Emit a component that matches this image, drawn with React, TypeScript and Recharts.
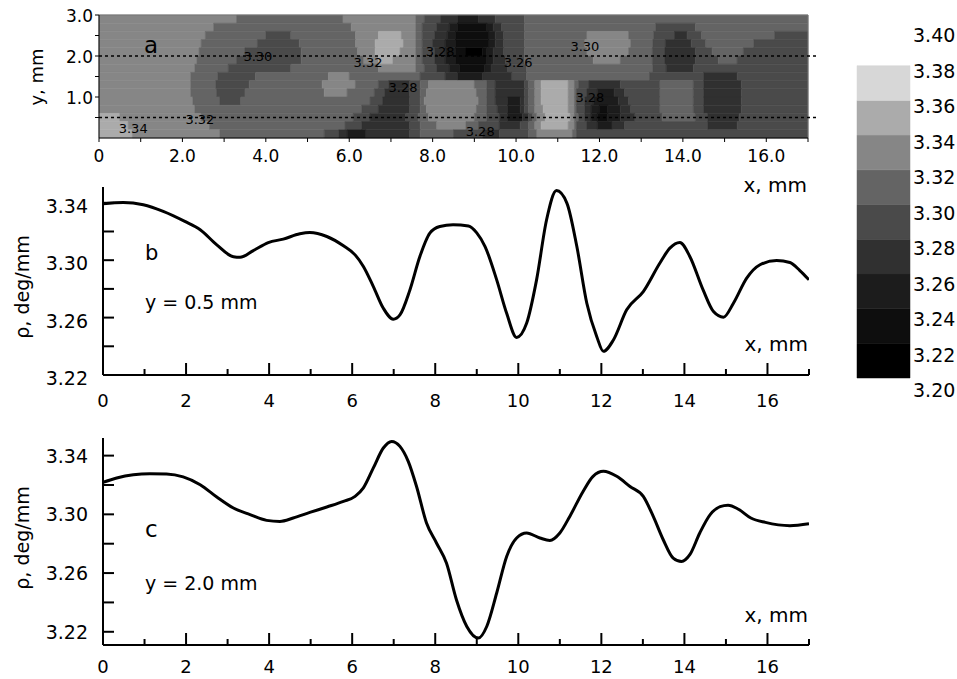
import React from 'react';
import {
  ComposedChart,
  LineChart,
  Line,
  XAxis,
  YAxis,
  ReferenceArea,
  ReferenceLine,
  Scatter,
} from 'recharts';

const FONT = '"DejaVu Sans", sans-serif';

// ---------- colour levels (colour bar and contour map) ----------
const levelBounds = [3.2, 3.22, 3.24, 3.26, 3.28, 3.3, 3.32, 3.34, 3.36, 3.38];
const levelColors = ['#000000', '#0e0e0e', '#1c1c1c', '#303030', '#4a4a4a', '#646464', '#868686', '#ababab', '#d7d7d7'];
const colorbarTicks = [3.2, 3.22, 3.24, 3.26, 3.28, 3.3, 3.32, 3.34, 3.36, 3.38, 3.4];

// ---------- contour map (panel a): rows of [xStart, level] runs ----------
const mapRowBottoms = [2.8, 2.6, 2.4, 2.2, 2.0, 1.8, 1.6, 1.4, 1.2, 1.0, 0.8, 0.6, 0.4, 0.2, 0.0];
const mapRowHeight = 0.2;
const mapRowRuns: number[][] = [
  [0, 6, 3.3, 5, 5.85, 6, 7.6, 5, 7.8, 4, 8.2, 3, 8.6, 2, 9.1, 3, 9.5, 4, 10.2, 5],
  [0, 6, 2.75, 5, 6.05, 6, 7.6, 5, 7.75, 4, 8.1, 3, 8.4, 2, 8.6, 1, 9.3, 2, 9.45, 3, 9.65, 4, 10.2, 5, 13.35, 4, 14.3, 5],
  [0, 6, 2.55, 5, 4.0, 4, 4.6, 5, 6.15, 6, 6.7, 7, 7.25, 6, 7.6, 5, 7.75, 4, 8.05, 3, 8.35, 2, 8.55, 1, 9.35, 2, 9.5, 3, 9.7, 4, 10.2, 5, 11.7, 6, 12.7, 5, 13.3, 4, 13.8, 3, 14.1, 4, 14.45, 5, 16.2, 4],
  [0, 6, 2.45, 5, 3.8, 4, 4.8, 5, 6.15, 6, 6.62, 7, 7.3, 6, 7.6, 5, 7.75, 4, 8.0, 3, 8.3, 2, 8.55, 1, 9.35, 2, 9.5, 3, 9.7, 4, 10.2, 5, 11.65, 6, 12.75, 5, 13.28, 4, 13.58, 3, 14.2, 4, 14.55, 5, 15.7, 4],
  [0, 6, 2.4, 5, 3.5, 4, 4.85, 5, 6.2, 6, 6.62, 7, 7.22, 6, 7.6, 5, 7.75, 4, 8.05, 3, 8.3, 2, 8.55, 1, 8.8, 0, 9.2, 1, 9.3, 2, 9.45, 3, 9.7, 4, 10.2, 5, 11.7, 6, 12.7, 5, 13.27, 4, 13.57, 3, 14.3, 4, 14.7, 5, 15.45, 4],
  [0, 6, 2.35, 5, 3.3, 4, 4.85, 5, 6.35, 6, 6.7, 7, 7.05, 6, 7.6, 5, 7.75, 4, 8.05, 3, 8.3, 2, 8.55, 1, 9.3, 2, 9.45, 3, 9.75, 4, 10.2, 5, 11.85, 6, 12.5, 5, 13.27, 4, 13.57, 3, 14.3, 4, 14.85, 5, 15.3, 4],
  [0, 6, 2.3, 5, 3.1, 4, 4.6, 5, 6.7, 6, 7.6, 5, 7.8, 4, 8.1, 3, 8.4, 2, 8.65, 1, 9.25, 2, 9.4, 3, 9.8, 4, 10.25, 5, 13.28, 4, 13.6, 3, 14.25, 4],
  [0, 6, 2.2, 5, 2.85, 4, 3.75, 5, 5.5, 6, 6.0, 5, 7.7, 4, 8.3, 3, 8.6, 2, 9.2, 3, 9.9, 4, 10.25, 5, 13.2, 4, 14.5, 3, 15.3, 4],
  [0, 6, 2.2, 5, 2.8, 4, 3.6, 5, 5.35, 6, 6.15, 5, 6.7, 4, 6.95, 3, 7.45, 4, 7.7, 5, 7.9, 6, 9.0, 5, 9.3, 4, 9.5, 3, 10.2, 4, 10.3, 5, 10.45, 6, 10.6, 7, 11.25, 6, 11.4, 5, 11.5, 4, 11.75, 3, 12.5, 4, 13.45, 5, 14.25, 4, 14.5, 3, 15.4, 4],
  [0, 6, 2.2, 5, 2.82, 4, 3.5, 5, 5.4, 6, 5.95, 5, 6.6, 4, 6.85, 3, 7.45, 4, 7.7, 5, 7.85, 6, 9.05, 5, 9.3, 4, 9.5, 3, 10.2, 4, 10.3, 5, 10.45, 6, 10.6, 7, 11.25, 6, 11.4, 5, 11.45, 4, 11.7, 3, 11.95, 2, 12.35, 3, 12.6, 4, 13.45, 5, 14.25, 4, 14.5, 3, 15.4, 4],
  [0, 6, 2.25, 5, 2.9, 4, 3.4, 5, 6.5, 4, 6.8, 3, 7.45, 4, 7.7, 5, 7.8, 6, 9.1, 5, 9.3, 4, 9.5, 3, 9.8, 2, 10.1, 3, 10.2, 4, 10.3, 5, 10.45, 6, 10.6, 7, 11.25, 6, 11.4, 5, 11.45, 4, 11.65, 3, 11.85, 2, 12.45, 3, 12.7, 4, 13.45, 5, 14.25, 4, 14.5, 3, 15.4, 4],
  [0, 6, 2.3, 5, 6.3, 4, 6.7, 3, 7.45, 4, 7.7, 5, 7.85, 6, 9.05, 5, 9.3, 4, 9.55, 3, 9.8, 2, 10.1, 3, 10.2, 4, 10.3, 5, 10.45, 6, 10.65, 7, 11.25, 6, 11.4, 5, 11.45, 4, 11.65, 3, 11.8, 2, 12.0, 1, 12.2, 2, 12.5, 3, 12.75, 4, 13.45, 5, 14.25, 4, 14.5, 3, 15.4, 4],
  [0, 7, 0.5, 6, 2.45, 5, 6.1, 4, 6.5, 3, 7.35, 4, 7.65, 5, 7.9, 6, 9.0, 5, 9.3, 4, 9.6, 3, 9.8, 2, 10.15, 3, 10.3, 4, 10.4, 5, 10.5, 6, 10.7, 7, 11.3, 6, 11.4, 5, 11.5, 4, 11.65, 3, 11.8, 2, 11.95, 1, 12.2, 2, 12.5, 3, 12.85, 4, 13.5, 5, 14.3, 4, 14.6, 3, 15.35, 4],
  [0, 7, 0.7, 6, 2.65, 5, 5.9, 4, 6.3, 3, 7.45, 4, 7.7, 5, 8.1, 6, 8.8, 5, 9.1, 4, 9.6, 3, 10.1, 4, 10.3, 5, 10.45, 6, 10.6, 7, 11.25, 6, 11.4, 5, 11.45, 4, 11.7, 3, 11.95, 2, 12.3, 3, 12.6, 4, 14.6, 3, 15.3, 4],
  [0, 7, 0.8, 6, 2.9, 5, 5.4, 4, 5.75, 3, 5.95, 2, 6.4, 3, 7.45, 4, 7.7, 5, 8.5, 4, 9.2, 3, 9.6, 4, 10.3, 5, 10.5, 6, 11.35, 5, 11.45, 4],
];

const contourLabelX = [3.81, 6.45, 8.18, 10.05, 11.65, 7.29, 11.77, 0.82, 2.42, 9.14];
const contourLabelY = [2.0, 1.85, 2.1, 1.85, 2.22, 1.22, 1.0, 0.22, 0.44, 0.17];
const contourLabelText = ['3.30', '3.32', '3.28', '3.26', '3.30', '3.28', '3.28', '3.34', '3.32', '3.28'];

const profileLinesY = [2.0, 0.5];

// ---------- profile b (y = 0.5 mm) ----------
const profileBX = [0, 0.49, 0.97, 1.45, 1.97, 2.34, 2.74, 3.14, 3.3, 3.62, 3.98, 4.34, 4.74, 4.98, 5.39, 5.79, 6.07, 6.27, 6.51, 6.75, 6.99, 7.15, 7.39, 7.63, 7.87, 8.11, 8.43, 8.8, 9.0, 9.2, 9.48, 9.72, 9.96, 10.2, 10.44, 10.68, 10.92, 11.17, 11.41, 11.65, 11.89, 12.05, 12.29, 12.61, 13.01, 13.41, 13.65, 13.89, 14.13, 14.45, 14.7, 14.94, 15.18, 15.5, 15.82, 16.22, 16.54, 16.78, 17];
const profileBRho = [3.3393, 3.3402, 3.3386, 3.334, 3.327, 3.3212, 3.3107, 3.3024, 3.302, 3.3067, 3.3123, 3.3147, 3.3184, 3.3193, 3.3165, 3.31, 3.3037, 3.2956, 3.2816, 3.2665, 3.2589, 3.2619, 3.2793, 3.3026, 3.3189, 3.3235, 3.3247, 3.3238, 3.319, 3.3095, 3.2863, 3.263, 3.2462, 3.256, 3.2863, 3.328, 3.3485, 3.3398, 3.3095, 3.27, 3.2467, 3.2365, 3.2444, 3.2654, 3.2781, 3.298, 3.3084, 3.3123, 3.3026, 3.2793, 3.2642, 3.2603, 3.27, 3.2875, 3.2968, 3.2998, 3.2984, 3.2928, 3.2863];

// ---------- profile c (y = 2.0 mm) ----------
const profileCX = [0, 0.33, 0.73, 1.13, 1.53, 1.93, 2.34, 2.74, 3.14, 3.54, 3.94, 4.26, 4.58, 4.98, 5.39, 5.79, 6.07, 6.27, 6.51, 6.75, 6.95, 7.15, 7.35, 7.55, 7.79, 8.03, 8.27, 8.51, 8.76, 9.04, 9.24, 9.48, 9.72, 9.96, 10.2, 10.52, 10.76, 11.0, 11.24, 11.56, 11.8, 12.05, 12.37, 12.69, 13.01, 13.25, 13.49, 13.73, 13.93, 14.13, 14.37, 14.62, 14.86, 15.05, 15.3, 15.6, 15.95, 16.54, 17];
const profileCRho = [3.3218, 3.3248, 3.327, 3.3277, 3.3275, 3.3255, 3.3202, 3.3118, 3.3043, 3.2998, 3.2959, 3.2952, 3.2975, 3.3013, 3.305, 3.3088, 3.3122, 3.318, 3.3316, 3.3452, 3.3497, 3.3463, 3.3361, 3.319, 3.2941, 3.2805, 3.2668, 3.2418, 3.2236, 3.2157, 3.2236, 3.2464, 3.2713, 3.2839, 3.2873, 3.2839, 3.2822, 3.2873, 3.2986, 3.3156, 3.3259, 3.3293, 3.3259, 3.319, 3.3122, 3.2986, 3.2827, 3.2702, 3.2679, 3.2725, 3.2873, 3.2998, 3.3052, 3.3062, 3.3035, 3.2975, 3.2945, 3.2923, 3.2936];

// ---------- ticks ----------
const mmTicks = [0, 1, 2, 3, 4, 5, 6, 7, 8, 9, 10, 11, 12, 13, 14, 15, 16, 17];
const mapYTicks = [0.5, 1.0, 1.5, 2.0, 2.5, 3.0];
const rhoTicks = [3.22, 3.24, 3.26, 3.28, 3.3, 3.32, 3.34];

// ---------- derived tables ----------
const mapCells = mapRowRuns.flatMap((runs, r) => {
  const y1 = mapRowBottoms[r];
  const y2 = y1 + mapRowHeight;
  const cells: { x1: number; x2: number; y1: number; y2: number; level: number }[] = [];
  for (let i = 0; i < runs.length; i += 2) {
    const x1 = runs[i];
    const x2 = i + 2 < runs.length ? runs[i + 2] : 17;
    cells.push({ x1, x2, y1, y2, level: runs[i + 1] });
  }
  return cells;
});

const contourLabels = contourLabelX.map((x, i) => ({ x, y: contourLabelY[i], text: contourLabelText[i] }));
const profileBData = profileBX.map((x, i) => ({ x, rho: profileBRho[i] }));
const profileCData = profileCX.map((x, i) => ({ x, rho: profileCRho[i] }));
const colorbarLevels = levelColors.map((c, i) => ({ lo: levelBounds[i], hi: levelBounds[i + 1], color: c, x: 0.5 }));

// ---------- tick renderers ----------
const MapXTick = (props: any) => {
  const { x, y, payload } = props;
  const v = payload.value;
  const major = v % 2 === 0;
  return (
    <g>
      <line x1={x} x2={x} y1={y} y2={y + 4} stroke="#000" strokeWidth={1} />
      {major && (
        <text x={x} y={y + 24} textAnchor="middle" fontSize={17} fontFamily={FONT} fill="#000">
          {v === 0 ? '0' : v.toFixed(1)}
        </text>
      )}
    </g>
  );
};

const MapYTick = (props: any) => {
  const { x, y, payload } = props;
  const v = payload.value;
  const major = Number.isInteger(v);
  return (
    <g>
      <line x1={x - 4} x2={x} y1={y} y2={y} stroke="#000" strokeWidth={1} />
      {major && (
        <text x={x - 6} y={y + 7} textAnchor="end" fontSize={17} fontFamily={FONT} fill="#000">
          {v.toFixed(1)}
        </text>
      )}
    </g>
  );
};

const ProfXTick = (props: any) => {
  const { x, y, payload, labelDy } = props;
  const v = payload.value;
  const major = v % 2 === 0;
  return (
    <g>
      <line x1={x} x2={x} y1={y} y2={y - (major ? 12 : 6)} stroke="#000" strokeWidth={2} />
      {major && (
        <text x={x} y={y + labelDy} textAnchor="middle" fontSize={18} fontFamily={FONT} fill="#000">
          {String(v)}
        </text>
      )}
    </g>
  );
};

const ProfYTick = (props: any) => {
  const { x, y, payload, labelDy } = props;
  const v = payload.value;
  const labelled = Math.round(v * 100) % 4 === 2;
  return (
    <g>
      <line x1={x} x2={x + 11} y1={y} y2={y} stroke="#000" strokeWidth={2} />
      {labelled && (
        <text x={x - 15} y={y + labelDy} textAnchor="end" fontSize={19} fontFamily={FONT} fill="#000">
          {v.toFixed(2)}
        </text>
      )}
    </g>
  );
};

const BarTick = (props: any) => {
  const { x, y, payload } = props;
  const v = payload.value;
  const dy = 11 + (3.4 - v) * 40;
  return (
    <text x={x + 3} y={y + dy} textAnchor="start" fontSize={19} fontFamily={FONT} fill="#000">
      {v.toFixed(2)}
    </text>
  );
};

const ContourLabelShape = (props: any) => {
  const { cx, cy, payload } = props;
  return (
    <text x={cx} y={cy + 4.5} textAnchor="middle" fontSize={13} fontFamily={FONT} fill="#000">
      {payload.text}
    </text>
  );
};

// ---------- panels ----------
const MapPanel = () => (
  <ComposedChart width={830} height={200} margin={{ top: 15, right: 22, bottom: 32, left: 39 }} data={contourLabels}>
    <XAxis
      type="number"
      dataKey="x"
      domain={[0, 17]}
      ticks={mmTicks}
      interval={0}
      height={30}
      tickSize={0}
      tickMargin={0}
      tickLine={false}
      tick={<MapXTick />}
      axisLine={{ stroke: '#000', strokeWidth: 1 }}
      allowDataOverflow
    />
    <YAxis
      type="number"
      dataKey="y"
      domain={[0, 3]}
      ticks={mapYTicks}
      interval={0}
      width={60}
      tickSize={0}
      tickMargin={0}
      tickLine={false}
      tick={<MapYTick />}
      axisLine={{ stroke: '#000', strokeWidth: 1 }}
      allowDataOverflow
    />
    {mapCells.map((c, i) => (
      <ReferenceArea
        key={`cell-${i}`}
        x1={c.x1}
        x2={c.x2}
        y1={c.y1}
        y2={c.y2}
        fill={levelColors[c.level]}
        fillOpacity={1}
        stroke={levelColors[c.level]}
        strokeWidth={0.6}
        ifOverflow="visible"
      />
    ))}
    <ReferenceLine y={3} stroke="#777" strokeWidth={1} />
    <ReferenceLine x={17} stroke="#777" strokeWidth={1} />
    {profileLinesY.map((yy) => (
      <ReferenceLine
        key={`prof-${yy}`}
        segment={[{ x: 0, y: yy }, { x: 17.2, y: yy }]}
        ifOverflow="visible"
        stroke="#000"
        strokeWidth={1.6}
        strokeDasharray="3 3"
      />
    ))}
    <Scatter data={contourLabels} dataKey="y" shape={<ContourLabelShape />} isAnimationActive={false} />
  </ComposedChart>
);

const ProfilePanel = ({ data, top, domain, xLabelDy, yLabelDy }: any) => (
  <LineChart width={830} height={top} margin={{ top: domain.marginTop, right: 21, bottom: domain.marginBottom, left: 43 }} data={data}>
    <XAxis
      type="number"
      dataKey="x"
      domain={[0, 17]}
      ticks={mmTicks}
      interval={0}
      height={30}
      tickSize={0}
      tickMargin={0}
      tickLine={false}
      tick={(p: any) => <ProfXTick {...p} labelDy={xLabelDy} />}
      axisLine={{ stroke: '#000', strokeWidth: 2 }}
      allowDataOverflow
    />
    <YAxis
      type="number"
      domain={domain.range}
      ticks={rhoTicks}
      interval={0}
      width={60}
      tickSize={0}
      tickMargin={0}
      tickLine={false}
      tick={(p: any) => <ProfYTick {...p} labelDy={yLabelDy} />}
      axisLine={{ stroke: '#000', strokeWidth: 2 }}
      allowDataOverflow
    />
    <Line dataKey="rho" type="monotone" stroke="#000" strokeWidth={3} dot={false} isAnimationActive={false} />
  </LineChart>
);

const ColorBar = () => (
  <ComposedChart width={117} height={400} margin={{ top: 31, right: 0, bottom: 22, left: 17 }} data={colorbarLevels}>
    <XAxis type="number" dataKey="x" domain={[0, 1]} hide />
    <YAxis
      type="number"
      dataKey="lo"
      orientation="right"
      domain={[3.2, 3.4]}
      ticks={colorbarTicks}
      interval={0}
      width={47}
      axisLine={false}
      tickLine={false}
      tickSize={0}
      tickMargin={0}
      tick={<BarTick />}
      allowDataOverflow
    />
    {colorbarLevels.map((l, i) => (
      <ReferenceArea
        key={`lv-${i}`}
        x1={0}
        x2={1}
        y1={l.lo}
        y2={l.hi}
        fill={l.color}
        fillOpacity={1}
        stroke={l.color}
        strokeWidth={0.5}
      />
    ))}
  </ComposedChart>
);

const txt = { fontFamily: FONT, fill: '#000' } as const;

export default function App() {
  return (
    <div style={{ position: 'absolute', left: 0, top: 0, width: 957, height: 679, background: '#fff', overflow: 'hidden' }}>
      <div style={{ position: 'absolute', left: 0, top: 0 }}>
        <MapPanel />
      </div>
      <div style={{ position: 'absolute', left: 0, top: 180 }}>
        <ProfilePanel
          data={profileBData}
          top={230}
          domain={{ range: [3.22, 3.351], marginTop: 7, marginBottom: 5 }}
          xLabelDy={32}
          yLabelDy={10}
        />
      </div>
      <div style={{ position: 'absolute', left: 0, top: 420 }}>
        <ProfilePanel
          data={profileCData}
          top={259}
          domain={{ range: [3.211, 3.352], marginTop: 18, marginBottom: 4 }}
          xLabelDy={28}
          yLabelDy={7}
        />
      </div>
      <div style={{ position: 'absolute', left: 840, top: 0 }}>
        <ColorBar />
      </div>
      <svg width={957} height={679} style={{ position: 'absolute', left: 0, top: 0, pointerEvents: 'none' }}>
        <text {...txt} fontSize={18} textAnchor="middle" transform="translate(43,77) rotate(-90)">y, mm</text>
        <text {...txt} fontSize={23} x={144} y={53}>a</text>
        <text {...txt} fontSize={20} x={807} y={192} textAnchor="end">x, mm</text>

        <text {...txt} fontSize={19} textAnchor="middle" transform="translate(29,287) rotate(-90)">ρ, deg/mm</text>
        <text {...txt} fontSize={21} x={145} y={260}>b</text>
        <text {...txt} fontSize={19} x={145} y={309}>y = 0.5 mm</text>
        <text {...txt} fontSize={20} x={808} y={351} textAnchor="end">x, mm</text>

        <text {...txt} fontSize={19} textAnchor="middle" transform="translate(29,538) rotate(-90)">ρ, deg/mm</text>
        <text {...txt} fontSize={23} x={145} y={537}>c</text>
        <text {...txt} fontSize={19} x={145} y={590}>y = 2.0 mm</text>
        <text {...txt} fontSize={20} x={808} y={622} textAnchor="end">x, mm</text>
      </svg>
    </div>
  );
}
